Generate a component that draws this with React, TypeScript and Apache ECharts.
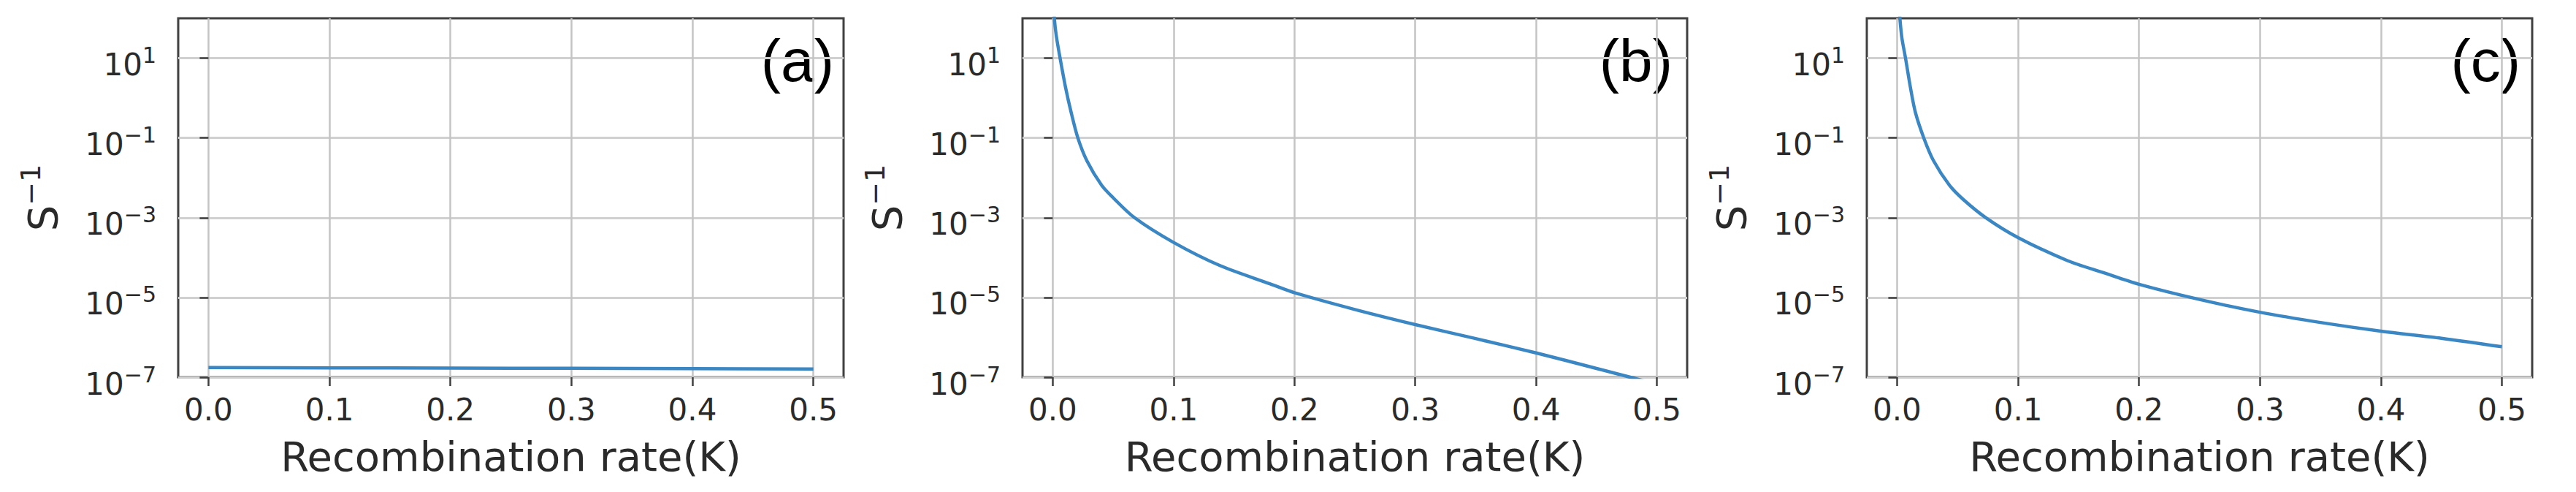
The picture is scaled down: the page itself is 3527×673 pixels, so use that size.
import React, { useEffect, useRef } from "react";
import * as echarts from "echarts";

// ---- data ----
const xTicks = [0, 0.1, 0.2, 0.3, 0.4, 0.5];
const yTicks = [1e-7, 1e-5, 1e-3, 1e-1, 1e1];
const panelLabels = ["(a)", "(b)", "(c)"];
const xName = "Recombination rate(K)";

const kA = [0, 0.1, 0.2, 0.3, 0.4, 0.5];
const sA = [1.75e-7, 1.72e-7, 1.7e-7, 1.67e-7, 1.64e-7, 1.61e-7];

const kB = [0.001, 0.0014, 0.003, 0.0061, 0.0107, 0.0152, 0.0208, 0.0283, 0.0404, 0.05, 0.0677, 0.1, 0.1384, 0.18, 0.2, 0.25, 0.3, 0.35, 0.4, 0.45, 0.478, 0.5];
const sB = [251, 95.5, 35.5, 10, 1.8, 0.443, 0.1, 0.0266, 0.00653, 0.00316, 0.001, 2.4e-4, 6.3e-5, 2.19e-5, 1.32e-5, 5.0e-6, 2.09e-6, 9.3e-7, 4.07e-7, 1.66e-7, 1.0e-7, 6.6e-8];

const kC = [0.0015, 0.0024, 0.004, 0.007, 0.0111, 0.0151, 0.0221, 0.0302, 0.0433, 0.055, 0.0734, 0.1, 0.1408, 0.1705, 0.2, 0.25, 0.3, 0.35, 0.4, 0.45, 0.5];
const sC = [251, 95, 32, 10, 1.8, 0.443, 0.1, 0.0266, 0.00653, 0.00282, 0.001, 3.18e-4, 8.4e-5, 4.19e-5, 2.14e-5, 8.9e-6, 4.25e-6, 2.36e-6, 1.43e-6, 9.5e-7, 5.8e-7];

const panels = [
  { k: kA, s: sA, left: 244, width: 911, labelRight: 1142 },
  { k: kB, s: sB, left: 1400, width: 910, labelRight: 2290 },
  { k: kC, s: sC, left: 2556, width: 911, labelRight: 3451 },
];

const FONT = "DejaVu Sans";
const TXT = "#2a2a2a";
const FRAME = "#404040";

function supLabel(v: number) {
  const e = Math.round(Math.log10(v));
  const es = e < 0 ? "\u2212" + String(-e) : String(e);
  return "{b|10}{s|" + es + "}";
}

export default function App() {
  const ref = useRef<HTMLDivElement>(null);
  useEffect(() => {
    if (!ref.current) return;
    const chart = echarts.init(ref.current, null, { renderer: "svg" });
    const top = 25;
    const height = 491;
    const option: any = {
      animation: false,
      backgroundColor: "#ffffff",
      grid: panels.map((p) => ({
        left: p.left,
        top,
        width: p.width,
        height,
        show: true,
        borderColor: FRAME,
        borderWidth: 3,
        backgroundColor: "transparent",
        containLabel: false,
      })),
      xAxis: panels.map((p, i) => ({
        type: "value",
        gridIndex: i,
        min: -0.025,
        max: 0.525,
        name: xName,
        nameLocation: "middle",
        nameGap: 80,
        nameTextStyle: { fontFamily: FONT, fontSize: 56, color: TXT },
        axisLine: { show: false },
        axisTick: {
          show: true,
          length: 12,
          customValues: xTicks,
          lineStyle: { color: FRAME, width: 2.5 },
        },
        axisLabel: {
          customValues: xTicks,
          margin: 23,
          fontFamily: FONT,
          fontSize: 42,
          color: TXT,
          formatter: (v: number) => v.toFixed(1),
        },
        splitLine: { show: true, lineStyle: { color: "#c4c4c4", width: 2.5 } },
      })),
      yAxis: panels.map((p, i) => ({
        type: "log",
        gridIndex: i,
        logBase: 10,
        min: 1e-7,
        max: 1e2,
        interval: 2,
        name: "{s|S}{p|\u22121}",
        nameLocation: "middle",
        nameGap: 158,
        nameTextStyle: {
          rich: {
            s: { fontFamily: FONT, fontSize: 56, lineHeight: 56, color: TXT },
            p: { fontFamily: FONT, fontSize: 38, lineHeight: 38, color: TXT, padding: [0, 0, 33, 0] },
          },
        },
        axisLine: { show: false },
        axisTick: {
          show: true,
          length: 12,
          customValues: yTicks,
          lineStyle: { color: FRAME, width: 2.5 },
        },
        axisLabel: {
          customValues: yTicks,
          margin: 30,
          formatter: (v: number) => supLabel(v),
          rich: {
            b: { fontFamily: FONT, fontSize: 42, lineHeight: 42, color: TXT, padding: [18, 0, 0, 0] },
            s: { fontFamily: FONT, fontSize: 30, lineHeight: 30, color: TXT, padding: [0, 0, 8, 0] },
          },
        },
        splitLine: { show: true, lineStyle: { color: "#d0d0d0", width: 3 } },
      })),
      series: panels.map((p, i) => ({
        type: "line",
        xAxisIndex: i,
        yAxisIndex: i,
        data: p.k.map((k, j) => [k, p.s[j]]),
        showSymbol: false,
        symbol: "none",
        clip: true,
        smooth: 0.3,
        lineStyle: { color: "#3a87c4", width: 4.5 },
      })),
      graphic: panels.map((p, i) => ({
        type: "text",
        x: p.labelRight,
        y: 82,
        style: {
          text: panelLabels[i],
          fontFamily: "Liberation Sans, Arial, sans-serif",
          fontSize: 82,
          fill: "#000000",
          align: "right",
          verticalAlign: "middle",
        },
      })),
    };
    chart.setOption(option);
    return () => chart.dispose();
  }, []);
  return (
    <div
      ref={ref}
      style={{ position: "fixed", left: 0, top: 0, width: "3527px", height: "673px", background: "#fff" }}
    />
  );
}
